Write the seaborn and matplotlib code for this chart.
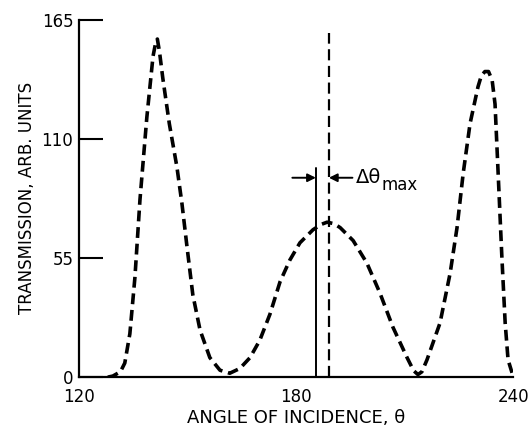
import numpy as np
import pandas as pd
import matplotlib
matplotlib.use("Agg")
import matplotlib.pyplot as plt
import seaborn as sns

# transmission curve
angle = [128.0, 129.4, 131.5, 132.7, 134.1, 135.5, 136.9, 138.8, 140.5, 141.2,
         141.7, 142.3, 143.2, 145.0, 147.1, 148.5, 149.9, 151.5, 153.5, 156.2,
         159.0, 161.7, 164.5, 167.3, 170.0, 172.8, 175.6, 178.3, 181.1, 184.7,
         187.0, 188.6, 190.5, 192.2, 195.8, 199.6, 203.2, 206.8, 210.7, 212.5,
         213.7, 214.8, 216.2, 219.8, 222.6, 224.5, 226.2, 228.1, 230.3, 231.2,
         232.2, 233.2, 234.2, 235.0, 235.7, 236.9, 237.8, 238.6, 239.7]
transmission = [0.0, 0.5, 2.5, 6.5, 20, 46, 82, 120, 148, 154,
                156, 150, 138, 117, 97, 80, 60, 38, 21.7, 9,
                3.2, 1.8, 4, 9, 17, 29, 44, 54, 62, 68,
                70.5, 71.5, 70.8, 69, 63, 52.6, 38.8, 23, 9, 3,
                1.2, 2.5, 8, 25, 48, 69, 94, 117, 134, 139,
                141, 141, 137, 126, 100, 55, 25, 8, 2]

solid_x, solid_top = 185.5, 96.5
dashed_x, dashed_top = 189.1, 159.0
arrow_y = 92.0

xticks = [120, 180, 240]
yticks = [0, 55, 110, 165]

df = pd.DataFrame({"angle": angle, "transmission": transmission})

sns.set_style("white")
plt.rcParams['font.family'] = ['DejaVu Sans']
plt.rcParams['text.color'] = 'black'
plt.rcParams['axes.labelcolor'] = 'black'
plt.rcParams['xtick.color'] = 'black'
plt.rcParams['ytick.color'] = 'black'

fig = plt.figure(figsize=(5.29, 4.34), dpi=100)
ax = fig.add_axes([0.149, 0.131, 0.821, 0.824])

sns.lineplot(data=df, x="angle", y="transmission", ax=ax, color="black",
             linewidth=2.6)
ax.lines[0].set_dashes((3.0, 1.6))

ax.plot([solid_x, solid_x], [0, solid_top], color="black", lw=1.4)
ax.plot([dashed_x, dashed_x], [0, dashed_top], color="black", lw=1.6,
        dashes=(5, 2.5))

ax.annotate("", xy=(solid_x, arrow_y), xytext=(solid_x - 6.5, arrow_y),
            arrowprops=dict(arrowstyle="-|>", color="black", lw=1.4,
                            shrinkA=0, shrinkB=0, mutation_scale=12))
ax.annotate("", xy=(dashed_x, arrow_y), xytext=(dashed_x + 6.5, arrow_y),
            arrowprops=dict(arrowstyle="-|>", color="black", lw=1.4,
                            shrinkA=0, shrinkB=0, mutation_scale=12))
ax.text(dashed_x + 7.5, arrow_y, "Δθ", fontsize=14, va="center", ha="left")
ax.annotate("max", xy=(dashed_x + 7.5, arrow_y), xytext=(18.5, -5),
            textcoords="offset points", fontsize=12, va="center", ha="left")

ax.set_xlim(120, 240)
ax.set_ylim(0, 165)
ax.set_xticks(xticks)
ax.set_yticks(yticks)
ax.tick_params(axis="y", left=True, direction="in", length=17, width=1.5,
               labelsize=12, pad=4)
ax.tick_params(axis="x", length=0, labelsize=12, pad=8)
for s in ["top", "right"]:
    ax.spines[s].set_visible(False)
for s in ["left", "bottom"]:
    ax.spines[s].set_linewidth(1.6)
    ax.spines[s].set_color("black")

ax.set_xlabel("ANGLE OF INCIDENCE, θ", fontsize=13, labelpad=2)
ax.set_ylabel("TRANSMISSION, ARB. UNITS", fontsize=12, labelpad=4)

fig.savefig("out.png", dpi=100)
